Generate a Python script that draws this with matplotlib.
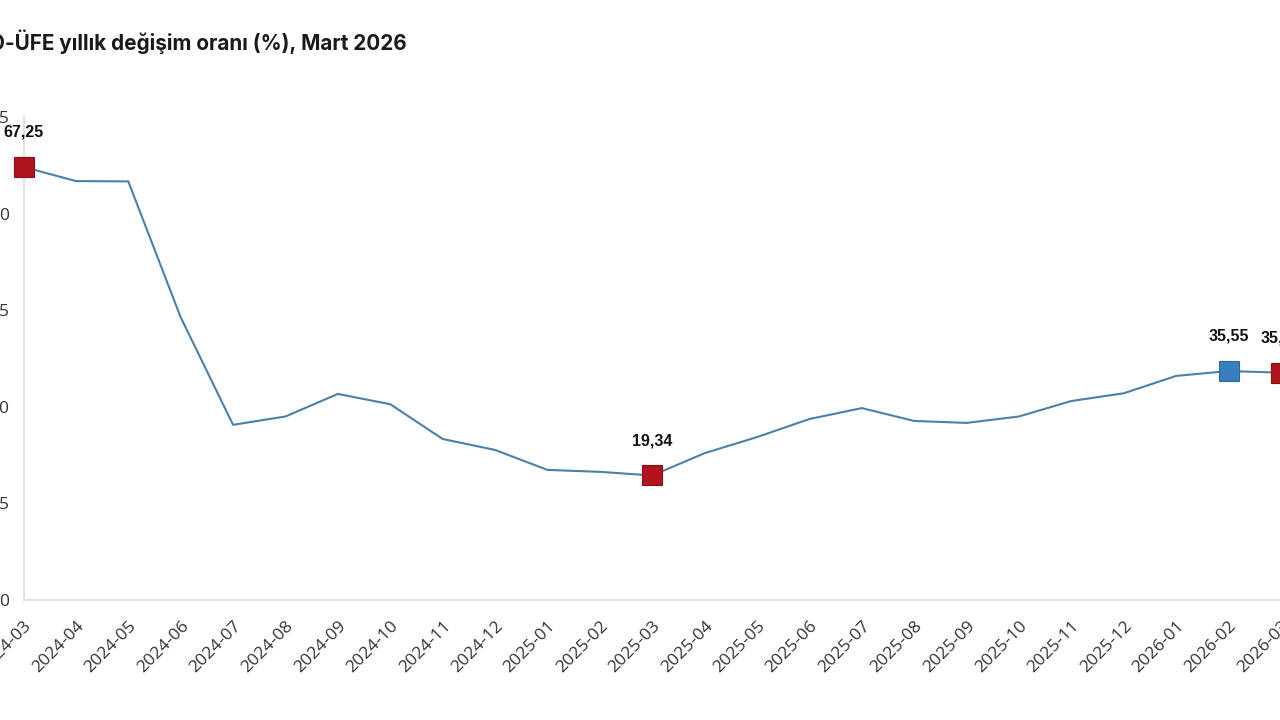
import matplotlib
matplotlib.use("Agg")
import matplotlib.pyplot as plt

months = ["2024-03", "2024-04", "2024-05", "2024-06", "2024-07", "2024-08", "2024-09",
          "2024-10", "2024-11", "2024-12", "2025-01", "2025-02", "2025-03", "2025-04",
          "2025-05", "2025-06", "2025-07", "2025-08", "2025-09", "2025-10", "2025-11",
          "2025-12", "2026-01", "2026-02", "2026-03"]
values = [67.25, 65.05, 65.0, 43.9, 27.2, 28.5, 32.0, 30.4, 25.0, 23.3, 20.2, 19.9,
          19.34, 22.8, 25.3, 28.1, 29.8, 27.8, 27.5, 28.5, 30.9, 32.1, 34.8, 35.55, 35.3]
red_idx = [0, 12, 24]
blue_idx = [23]
yticks = [0, 15, 30, 45, 60, 75]
title = "D-ÜFE yıllık değişim oranı (%), Mart 2026"

W, H = 1280, 720
fig = plt.figure(figsize=(12.8, 7.2), dpi=100)
left_px, right_px, top_px, bot_px = 23.5, 1281, 117, 600
ax = fig.add_axes([left_px / W, 1 - bot_px / H, (right_px - left_px) / W, (bot_px - top_px) / H])

x = list(range(len(months)))
ax.plot(x, values, color="#4a80aa", lw=1.5, zorder=2, clip_on=False)
for i in red_idx:
    ax.plot(x[i], values[i], marker="s", ms=13.8, color="#b0141c", mec="#8e1016", mew=0.8,
            zorder=3, clip_on=False)
for i in blue_idx:
    ax.plot(x[i], values[i], marker="s", ms=13.8, color="#3a7fbd", mec="#2d6aa3", mew=0.8,
            zorder=3, clip_on=False)
for i in red_idx + blue_idx:
    ax.annotate(f"{values[i]:.2f}".replace(".", ","), (x[i], values[i]), xytext=(0, 25),
                textcoords="offset points", ha="center", va="center",
                fontsize=11.5, fontweight="bold", family="Liberation Sans", color="#111111")

ax.set_xlim(0, len(months) - 1)
ax.set_ylim(0, 75)
ax.set_yticks(yticks)
ax.set_yticklabels([str(v) for v in yticks], family="Open Sans", fontsize=12.5, color="#333333")
ax.set_xticks(x)
ax.set_xticklabels(months, rotation=45, ha="right", rotation_mode="anchor",
                   family="Open Sans", fontsize=12.5, color="#333333")
ax.tick_params(axis="y", length=0, pad=10)
ax.tick_params(axis="x", length=0, pad=13)
for s in ["top", "right"]:
    ax.spines[s].set_visible(False)
for s in ["left", "bottom"]:
    ax.spines[s].set_color("#e2e2e2")
    ax.spines[s].set_linewidth(1.5)

fig.text(407 / W, 1 - 42 / H, title, ha="right", va="center", family="Inter",
         fontweight="bold", fontsize=14.9, color="#1a1a1a")

fig.savefig("out.png", dpi=100)
